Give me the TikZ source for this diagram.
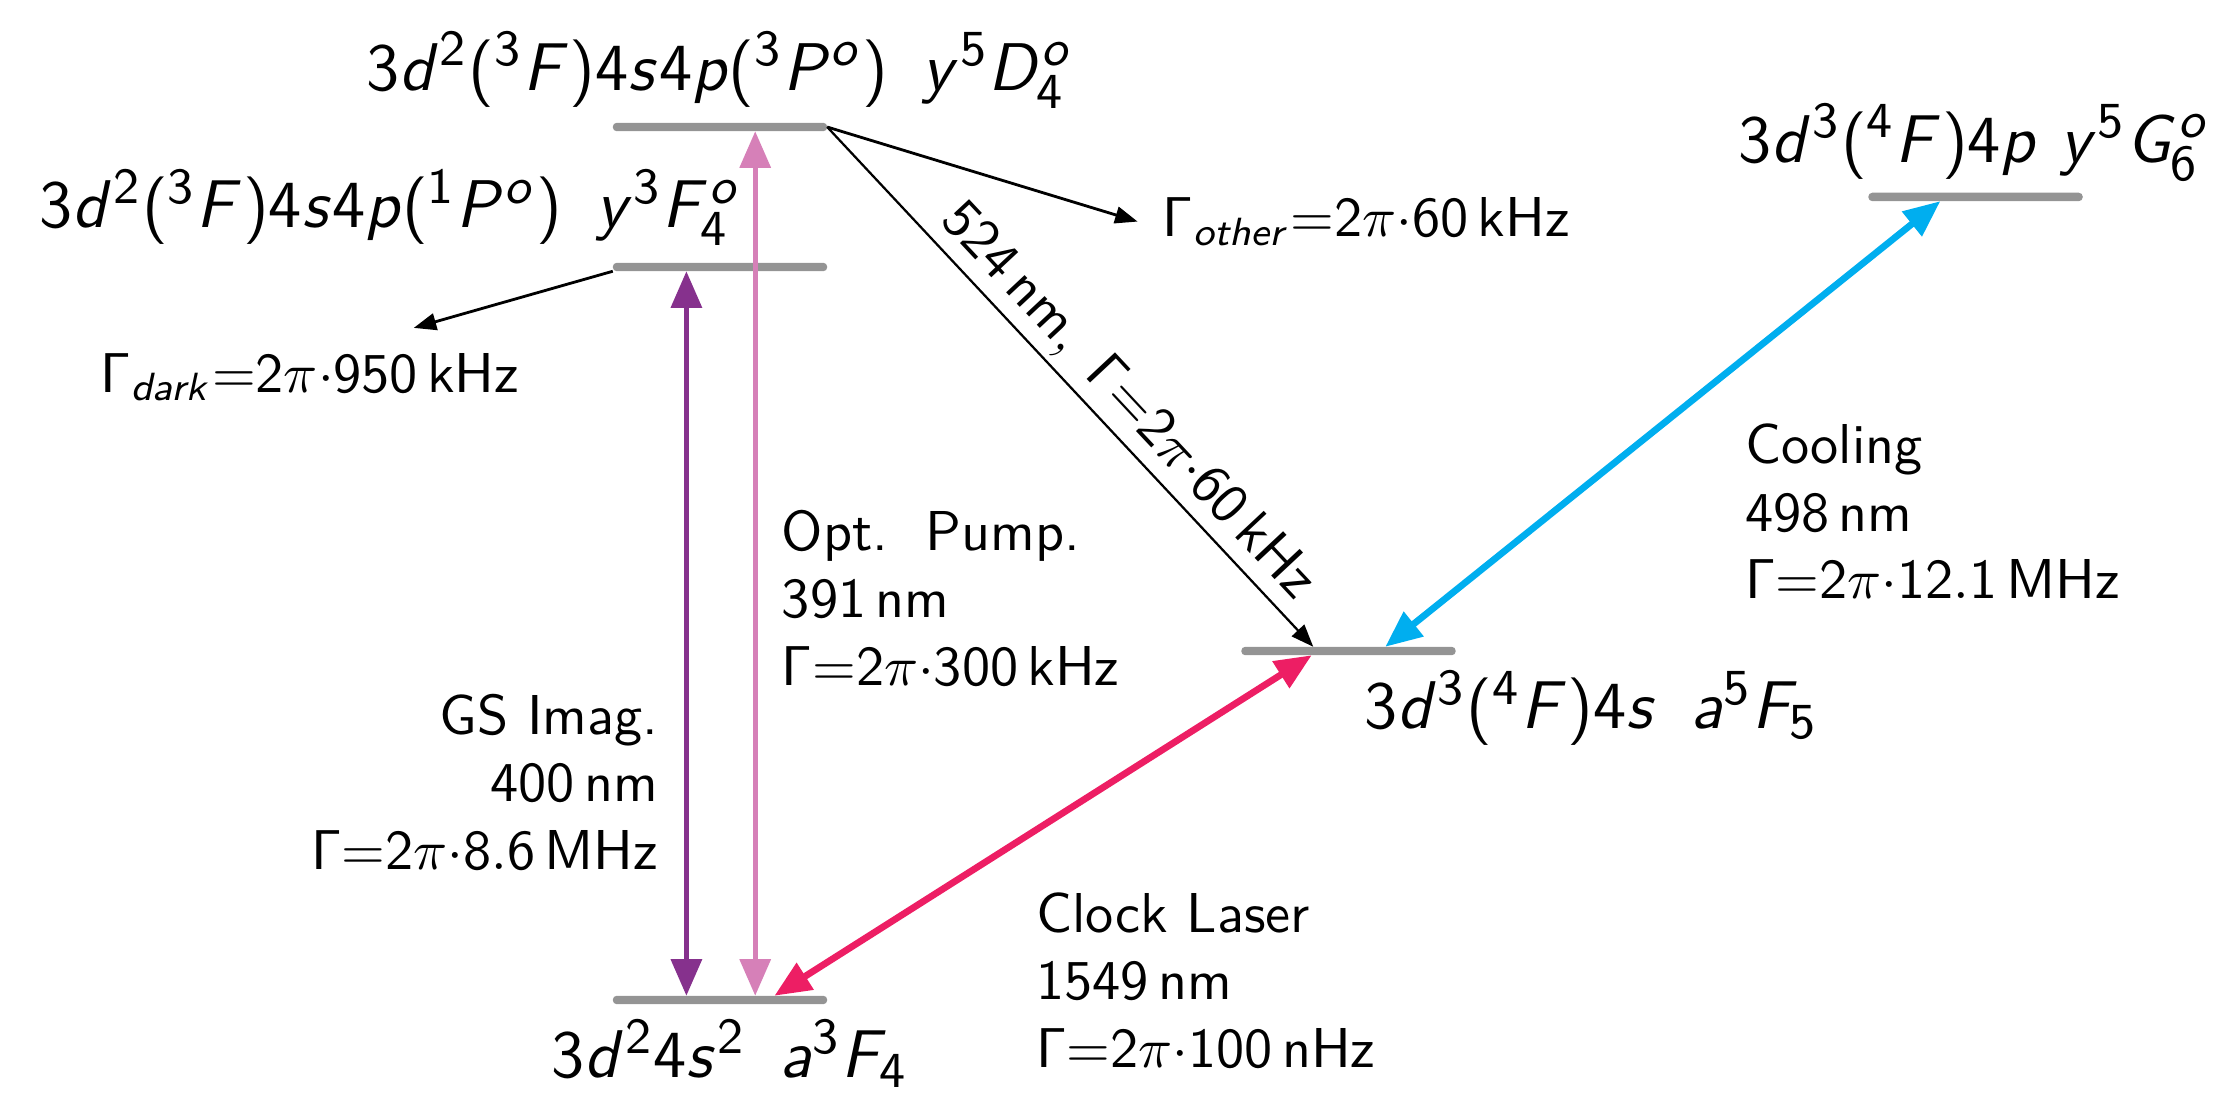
\documentclass[tikz,border=0pt]{standalone}
\usetikzlibrary{arrows.meta}
\renewcommand{\familydefault}{\sfdefault}
% 数学字体改为无衬线
\DeclareSymbolFont{operators}{OT1}{cmss}{m}{n}
\DeclareSymbolFont{sfletters}{OT1}{cmss}{m}{sl}
\makeatletter
\@tfor\ltr:=adsopythrekFPDG\do{%
  \expandafter\DeclareMathSymbol\expandafter{\ltr}{\mathalpha}{sfletters}{\expandafter`\ltr}}
\makeatother
\definecolor{imagcol}{RGB}{134,49,141}
\definecolor{pumpcol}{RGB}{214,128,184}
\definecolor{clockcol}{RGB}{237,30,100}
\definecolor{coolcol}{RGB}{0,174,239}
\definecolor{lvlcol}{RGB}{148,148,148}
\tikzset{
  level/.style={fill=lvlcol,rounded corners=0.7pt,minimum width=1.34cm,
    minimum height=1.5pt,inner sep=0pt,outer sep=0pt},
  lvllab/.style={font=\fontsize{12.4}{15}\selectfont,inner sep=0pt},
  info/.style={inner sep=0pt,align=left},
  trans/.style={<->,line width=0.9pt},
  decay/.style={->,>={Triangle[length=4pt,width=3pt]},line width=0.4pt},
}

\begin{document}
\begin{tikzpicture}[>={Triangle[length=6.5pt,width=5.4pt]}]
\useasboundingbox (0,0) rectangle (13.8875,6.875);
% ---------- 能级 ----------
\node[level] (gs) at (4.5,0.625) {};
\node[level] (fl) at (4.5,5.206) {};
\node[level] (dl) at (4.5,6.081) {};
\node[level] (af) at (8.428,2.806) {};
\node[level] (gl) at (12.347,5.644) {};
% 能级标注（按基线放置）
\node[lvllab,anchor=base west] (gslab) at (3.44,0.14) {$3d^2 4s^2\ \,a^3F_4$};
\node[lvllab,anchor=base east] (fllab) at (4.64,5.45) {$3d^2(^3F)4s4p(^1P^o)\ \,y^3F^o_4$};
\node[lvllab,anchor=base] (dllab) at (4.5,6.31) {$3d^2(^3F)4s4p(^3P^o)\ \,y^5D^o_4$};
\node[lvllab,anchor=base west] (aflab) at (8.52,2.32) {$3d^3(^4F)4s\ \,a^5F_5$};
\node[lvllab,anchor=base west] (gllab) at (10.86,5.86) {$3d^3(^4F)4p\ y^5G^o_6$};
% ---------- 跃迁说明 ----------
\node[info,anchor=east,align=right] (imag) at (4.12,1.99)
  {GS Imag.\\$400\,\mathrm{nm}$\\$\Gamma{=}2\pi{\cdot}8.6\,\mathrm{MHz}$};
\node[info,anchor=west] (pump) at (4.88,3.14)
  {Opt.\ \ Pump.\\$391\,\mathrm{nm}$\\$\Gamma{=}2\pi{\cdot}300\,\mathrm{kHz}$};
\node[info,anchor=west] (clock) at (6.47,0.75)
  {Clock Laser\\$1549\,\mathrm{nm}$\\$\Gamma{=}2\pi{\cdot}100\,\mathrm{nHz}$};
\node[info,anchor=west] (cool) at (10.9,3.68)
  {Cooling\\$498\,\mathrm{nm}$\\$\Gamma{=}2\pi{\cdot}12.1\,\mathrm{MHz}$};
\node[info,anchor=west] (dark) at (0.62,4.52) {$\Gamma_{dark}{=}2\pi{\cdot}950\,\mathrm{kHz}$};
\node[info,anchor=west] (other) at (7.26,5.49) {$\Gamma_{other}{=}2\pi{\cdot}60\,\mathrm{kHz}$};
% ---------- 激光跃迁 ----------
\draw[trans,imagcol] ([xshift=-0.21cm]gs.north) -- ([xshift=-0.21cm]fl.south);
\draw[trans,pumpcol] ([xshift=0.22cm]gs.north) -- ([xshift=0.22cm]dl.south);
\draw[trans,clockcol,line width=1.2pt] ([xshift=0.34cm]gs.north) -- ([xshift=-0.23cm]af.south);
\draw[trans,coolcol,line width=1.2pt] ([xshift=0.23cm]af.north) -- ([xshift=-0.22cm]gl.south);
% 衰变
\draw[decay] (dl.east) -- node[sloped,above,pos=0.57,inner sep=1pt] (ratelab)
  {$524\,\mathrm{nm},\ \Gamma{=}2\pi{\cdot}60\,\mathrm{kHz}$} ([xshift=-0.22cm]af.north);
\draw[decay,line width=0.5pt] (dl.east) -- ([xshift=-0.15cm]other.west);
\draw[decay,line width=0.5pt] (fl.south west) -- ([xshift=0.65cm,yshift=0.15cm]dark.north);
\end{tikzpicture}
\end{document}
